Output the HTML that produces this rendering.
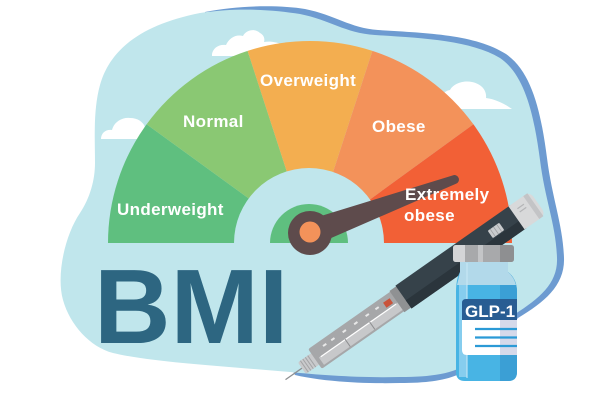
<!DOCTYPE html>
<html><head><meta charset="utf-8"><style>
html,body{margin:0;padding:0;background:#fff;}
svg{display:block;}
text{font-family:"Liberation Sans",Arial,sans-serif;font-weight:bold;}
</style></head><body>
<svg width="600" height="400" viewBox="0 0 600 400" xmlns="http://www.w3.org/2000/svg">
<rect width="600" height="400" fill="#fff"/>
<!-- border blob -->
<path d="M205 12 C240 5,280 5,305 9 C335 15,350 28,378 30 C425 33,475 34,506 54 C532 72,541 112,547 158 C552 198,563 225,564 258 C565 285,545 302,518 318 L472 366 C456 380,430 383,400 383 C360 384,320 381,295 375 L200 200 Z" fill="#6d9bd1"/>
<!-- light blue blob -->
<path d="M300 14 C330 20,345 33,375 35 C420 38,470 40,500 58 C525 75,534 115,540 160 C545 200,556 225,557 258 C558 283,540 298,515 314 L470 362 C455 374,430 377,400 377 C360 378,320 375,290 372 C220 366,150 362,113 353 C90 347,70 325,63 300 C56 275,65 235,80 213 C90 198,95 180,95 163 C95 140,93 110,100 85 C110 50,140 25,200 13 C240 7,275 10,300 14 Z" fill="#c0e6ec"/>
<!-- clouds -->
<path d="M212 54 C213 48,219 44,226 45 C229 38,236 34,243 36 C246 30,255 28,260 33 C264 35,265 39,264 42 C270 41,278 42,285 46 L290 56 L212 56 Z" fill="#fff"/>
<path d="M101 139 C101 133,106 129,112 130 C114 122,122 117,130 118 C138 118,143 122,145 127 L160 139 Z" fill="#fff"/>
<path d="M440 109 C438 99,443 91,450 90 C453 84,463 80,472 82 C482 84,487 91,486 98 C495 99,505 104,512 109 Z" fill="#fff"/>
<!-- gauge wedges (center 310,243 r 202) -->
<path d="M310 243 L108 243 A202 202 0 0 1 146.6 124.3 Z" fill="#5fbf7f"/>
<path d="M310 243 L146.6 124.3 A202 202 0 0 1 247.6 50.9 Z" fill="#8ac873"/>
<path d="M310 243 L247.6 50.9 A202 202 0 0 1 372.4 50.9 Z" fill="#f3ae50"/>
<path d="M310 243 L372.4 50.9 A202 202 0 0 1 473.4 124.3 Z" fill="#f3925a"/>
<path d="M310 243 L473.4 124.3 A202 202 0 0 1 512 243 Z" fill="#f26036"/>
<!-- inner -->
<path d="M234 243 A75 75 0 0 1 384 243 Z" fill="#c0e6ec"/>
<path d="M270 243 A39 39 0 0 1 348 243 Z" fill="#5fbf7f"/>
<!-- needle -->
<g transform="translate(310,233) rotate(-20.3)">
<path d="M0 -13 L154 -4.5 A4.5 4.5 0 0 1 154 4.5 L0 13 Z" fill="#5e4b4c"/>
</g>
<circle cx="310" cy="233" r="22" fill="#5e4b4c"/>
<circle cx="310" cy="232" r="10.5" fill="#f3925a"/>
<!-- labels -->
<g fill="#fff" font-size="17" letter-spacing="0.35">
<text x="260" y="86">Overweight</text>
<text x="183" y="127">Normal</text>
<text x="372" y="132">Obese</text>
<text x="117" y="215">Underweight</text>
<text x="405" y="200">Extremely</text>
<text x="404" y="221">obese</text>
</g>
<!-- BMI -->
<text x="94" y="343" font-size="106" fill="#2d6681">BMI</text>
<!-- pen -->
<g transform="translate(315,359) rotate(-35)">
<line x1="-36" y1="0" x2="-14" y2="0" stroke="#8e9092" stroke-width="1.3"/>
<rect x="-16" y="-7" width="17" height="14" rx="2" fill="#c9cacc"/>
<path d="M-13 -7v14M-10 -7v14M-7 -7v14M-4 -7v14" stroke="#a3a4a6" stroke-width="1"/>
<rect x="0" y="-12" width="108" height="24" rx="2" fill="#a6a7a9"/>
<rect x="4" y="1" width="96" height="9" fill="#c7c8ca"/>
<line x1="6" y1="1.5" x2="98" y2="1.5" stroke="#fff" stroke-width="1.2"/>
<path d="M36 1v9M66 1v9" stroke="#8e8f91" stroke-width="1"/>
<g fill="#e8e8e8">
<rect x="14" y="-7" width="4" height="2"/><rect x="24" y="-7" width="4" height="2"/>
<rect x="38" y="-7" width="4" height="2"/><rect x="52" y="-7" width="4" height="2"/>
<rect x="66" y="-7" width="4" height="2"/><rect x="78" y="-7" width="4" height="2"/>
</g>
<rect x="88" y="-7" width="8" height="6" fill="#c9533b"/>
<rect x="100" y="-13" width="10" height="26" fill="#8f9193"/>
<rect x="108" y="-14" width="140" height="28" fill="#36424a"/>
<rect x="108" y="4" width="140" height="10" fill="#2b353c"/>
<rect x="215" y="-6" width="14" height="9" rx="1" fill="#c9cbcd"/>
<path d="M218 -6v9M222 -6v9M226 -6v9" stroke="#9c9ea0" stroke-width="0.8"/>
<path d="M246 -14 H265 Q272 -14 272 -7 V7 Q272 14 265 14 H246 Z" fill="#d8d9da"/>
<rect x="264" y="-14" width="5" height="28" fill="#c3c4c6"/>
<path d="M252 -7h8M252 -3h8" stroke="#b4b5b7" stroke-width="1.2"/>
</g>
<!-- vial -->
<path d="M460 262 L508 262 L508 272 Q517 279 517 292 L517 372 Q517 381 508 381 L465 381 Q456 381 456 372 L456 292 Q456 279 460 272 Z" fill="#48b4e4"/>
<path d="M500 262 L508 262 L508 272 Q517 279 517 292 L517 372 Q517 381 508 381 L500 381 Z" fill="#3b9fd5"/>
<rect x="459" y="285" width="8" height="92" fill="#86cdee"/>
<path d="M460 262 L508 262 L508 272 Q514 277 516 285 L457 285 Q459 277 460 272 Z" fill="#b2d9ea"/>
<path d="M467 263 v115" stroke="#c8e8f6" stroke-width="1.5" opacity="0.7"/>
<rect x="453" y="245" width="61" height="17" rx="3" fill="#a8a9ab"/>
<path d="M456 245 H465 V262 H456 Q453 262 453 259 V248 Q453 245 456 245 Z" fill="#d4d5d7"/>
<rect x="478" y="245" width="5" height="17" fill="#c4c5c7"/>
<path d="M500 245 H511 Q514 245 514 248 V259 Q514 262 511 262 H500 Z" fill="#8e8f91"/>
<path d="M466 299 H517 V320 H462 V303 Q462 299 466 299 Z" fill="#285d93"/>
<path d="M462 320 H517 V355 H467 Q462 355 462 350 Z" fill="#fff"/>
<rect x="500" y="320" width="17" height="35" fill="#d5d9ea"/>
<g stroke="#2b9ad6" stroke-width="2.2">
<line x1="475" y1="329" x2="517" y2="329"/>
<line x1="475" y1="337.5" x2="517" y2="337.5"/>
<line x1="475" y1="346" x2="517" y2="346"/>
</g>
<text x="465" y="317" font-size="17" fill="#fff">GLP-1</text>
</svg>
</body></html>
